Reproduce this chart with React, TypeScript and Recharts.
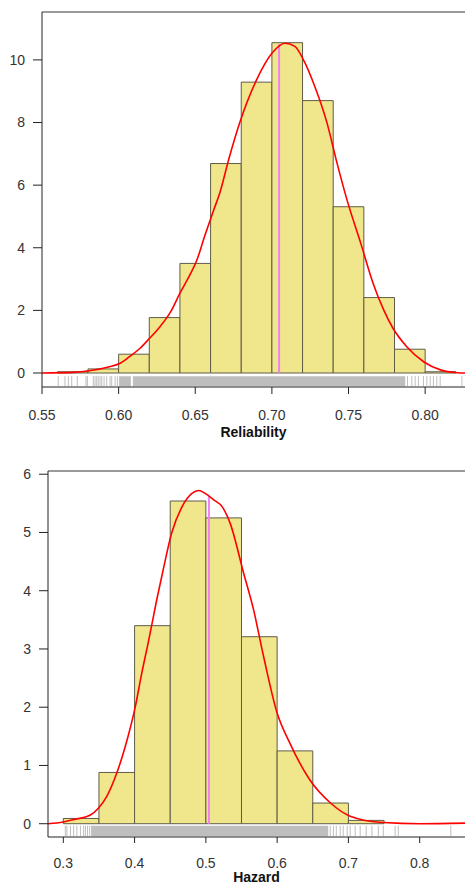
import React from 'react';
import { ComposedChart, Line, XAxis, YAxis, ReferenceArea, ReferenceLine } from 'recharts';

// Reliability panel
const relBreaks = [0.56, 0.58, 0.6, 0.62, 0.64, 0.66, 0.68, 0.7, 0.72, 0.74, 0.76, 0.78, 0.8, 0.82];
const relHeights = [0.04, 0.13, 0.6, 1.77, 3.5, 6.69, 9.29, 10.55, 8.7, 5.31, 2.41, 0.76, 0.04];
const relCurveX = [0.55, 0.57, 0.581, 0.594, 0.601, 0.607, 0.614, 0.62, 0.627, 0.634, 0.64, 0.647, 0.651, 0.656, 0.662, 0.666, 0.672, 0.679, 0.69, 0.7, 0.7086, 0.715, 0.7206, 0.728, 0.736, 0.742, 0.749, 0.758, 0.766, 0.773, 0.779, 0.788, 0.799, 0.81, 0.821, 0.826];
const relCurveY = [0.0, 0.02, 0.07, 0.2, 0.31, 0.52, 0.79, 1.1, 1.48, 1.96, 2.55, 3.18, 3.6, 4.35, 5.2, 5.75, 6.85, 7.99, 9.36, 10.21, 10.53, 10.43, 10.0, 9.15, 7.98, 6.8, 5.53, 4.14, 2.87, 2.01, 1.43, 0.84, 0.36, 0.1, 0.01, 0.0];
const relRug = [0.5606, 0.565, 0.5672, 0.5694, 0.573, 0.5787, 0.5796, 0.5835, 0.5846, 0.5857, 0.5867, 0.5879, 0.589, 0.5905, 0.5922, 0.5944, 0.5955, 0.5977, 0.5992, 0.7885, 0.7913, 0.7935, 0.7956, 0.7989, 0.8011, 0.8033, 0.8054, 0.8076, 0.8098, 0.824];
const relRugBands = [[0.6003, 0.608], [0.6093, 0.787]];
const relMean = 0.7047;
const relMeanDensity = 10.5;
const relXTicks = [0.55, 0.6, 0.65, 0.7, 0.75, 0.8];
const relYTicks = [0, 2, 4, 6, 8, 10];

// Hazard panel
const hazBreaks = [0.3, 0.35, 0.4, 0.45, 0.5, 0.55, 0.6, 0.65, 0.7, 0.75];
const hazHeights = [0.09, 0.88, 3.4, 5.54, 5.25, 3.21, 1.25, 0.355, 0.057];
const hazCurveX = [0.2785, 0.3, 0.3145, 0.338, 0.3495, 0.361, 0.375, 0.387, 0.401, 0.41, 0.42, 0.431, 0.441, 0.452, 0.4665, 0.4805, 0.49, 0.499, 0.511, 0.523, 0.534, 0.553, 0.567, 0.581, 0.6, 0.618, 0.646, 0.6745, 0.7025, 0.749, 0.8, 0.8636];
const hazCurveY = [0.0, 0.03, 0.07, 0.15, 0.27, 0.47, 0.87, 1.33, 2.01, 2.58, 3.16, 3.84, 4.41, 4.99, 5.44, 5.67, 5.72, 5.67, 5.56, 5.44, 5.16, 4.3, 3.67, 2.87, 1.9, 1.38, 0.75, 0.36, 0.13, 0.02, 0.0, 0.01];
const hazRug = [0.3028, 0.305, 0.31, 0.3145, 0.319, 0.324, 0.3285, 0.331, 0.334, 0.337, 0.6745, 0.679, 0.683, 0.6885, 0.6927, 0.6983, 0.7025, 0.7095, 0.7165, 0.725, 0.733, 0.742, 0.749, 0.7656, 0.77, 0.8437];
const hazRugBands = [[0.339, 0.6717]];
const hazMean = 0.5043;
const hazMeanDensity = 5.62;
const hazXTicks = [0.3, 0.4, 0.5, 0.6, 0.7, 0.8];
const hazYTicks = [0, 1, 2, 3, 4, 5, 6];

const FONT = '"Liberation Sans", Arial, sans-serif';
const tickStyle = { fill: '#333', fontSize: 14, fontFamily: FONT };

function Panel(props: any) {
  const {
    width, height, marginTop, yWidth, xHeight, xDomain, yDomain, xTicks, yTicks, digits,
    breaks, heights, curveX, curveY, rug, rugBands, rugY, mean, meanDensity,
    label, labelOffset, xTickSize, xTickMargin,
  } = props;
  const curve = curveX.map((x: number, i: number) => ({ x, y: curveY[i] }));
  return (
    <ComposedChart width={width} height={height} data={curve} margin={{ top: marginTop, right: 0, left: 0, bottom: 0 }}>
      <XAxis
        xAxisId="x"
        dataKey="x"
        type="number"
        domain={xDomain}
        allowDataOverflow
        ticks={xTicks}
        tickFormatter={(v: number) => v.toFixed(digits)}
        height={xHeight}
        tick={tickStyle}
        tickSize={xTickSize}
        tickMargin={xTickMargin}
        axisLine={{ stroke: '#222' }}
        tickLine={{ stroke: '#222' }}
        label={{ value: label, position: 'insideBottom', offset: labelOffset, fill: '#111', fontSize: 14, fontWeight: 'bold', fontFamily: FONT }}
      />
      <YAxis
        yAxisId="y"
        type="number"
        domain={yDomain}
        allowDataOverflow
        ticks={yTicks}
        width={yWidth}
        tick={tickStyle}
        tickSize={9}
        tickMargin={8}
        axisLine={{ stroke: '#222' }}
        tickLine={{ stroke: '#222' }}
      />
      {/* box top edge */}
      <ReferenceLine xAxisId="x" yAxisId="y" y={yDomain[1]} stroke="#777" strokeWidth={1.5} ifOverflow="extendDomain" />
      {rugBands.map((b: number[], i: number) => (
        <ReferenceArea key={'band' + i} xAxisId="x" yAxisId="y" x1={b[0]} x2={b[1]} y1={rugY[0]} y2={rugY[1]} fill="#bebebe" fillOpacity={1} stroke="none" ifOverflow="hidden" />
      ))}
      {rug.map((v: number, i: number) => (
        <ReferenceLine key={'rug' + i} xAxisId="x" yAxisId="y" segment={[{ x: v, y: rugY[0] }, { x: v, y: rugY[1] }]} stroke="#bebebe" strokeWidth={1} ifOverflow="hidden" />
      ))}
      {heights.map((h: number, i: number) => (
        <ReferenceArea key={'bin' + i} xAxisId="x" yAxisId="y" x1={breaks[i]} x2={breaks[i + 1]} y1={0} y2={h} fill="#F0E68C" fillOpacity={1} stroke="#5f5c48" strokeWidth={1} ifOverflow="hidden" />
      ))}
      <ReferenceLine xAxisId="x" yAxisId="y" segment={[{ x: mean, y: 0 }, { x: mean, y: meanDensity }]} stroke="#EE82EE" strokeWidth={2} />
      <Line xAxisId="x" yAxisId="y" dataKey="y" type="monotone" stroke="#FF0000" strokeWidth={1.6} dot={false} activeDot={false} isAnimationActive={false} />
    </ComposedChart>
  );
}

export default function App() {
  return (
    <div style={{ position: 'absolute', left: 0, top: 0, width: 465, height: 886, overflow: 'hidden', background: '#fff' }}>
      <div style={{ position: 'absolute', left: 0, top: 0 }}>
        <Panel
          width={465} height={445} marginTop={12} yWidth={42} xHeight={58}
          xDomain={[0.55, 0.826]} yDomain={[-0.447, 11.53]} xTicks={relXTicks} yTicks={relYTicks} digits={2}
          breaks={relBreaks} heights={relHeights} curveX={relCurveX} curveY={relCurveY}
          rug={relRug} rugBands={relRugBands} rugY={[-0.1, -0.42]} mean={relMean} meanDensity={relMeanDensity}
          label="Reliability" labelOffset={8} xTickSize={7} xTickMargin={16}
        />
      </div>
      <div style={{ position: 'absolute', left: 0, top: 450 }}>
        <Panel
          width={465} height={436} marginTop={21} yWidth={48} xHeight={49}
          xDomain={[0.2785, 0.8636]} yDomain={[-0.228, 6.055]} xTicks={hazXTicks} yTicks={hazYTicks} digits={1}
          breaks={hazBreaks} heights={hazHeights} curveX={hazCurveX} curveY={hazCurveY}
          rug={hazRug} rugBands={hazRugBands} rugY={[-0.034, -0.215]} mean={hazMean} meanDensity={hazMeanDensity}
          label="Hazard" labelOffset={4} xTickSize={6} xTickMargin={15}
        />
      </div>
    </div>
  );
}
